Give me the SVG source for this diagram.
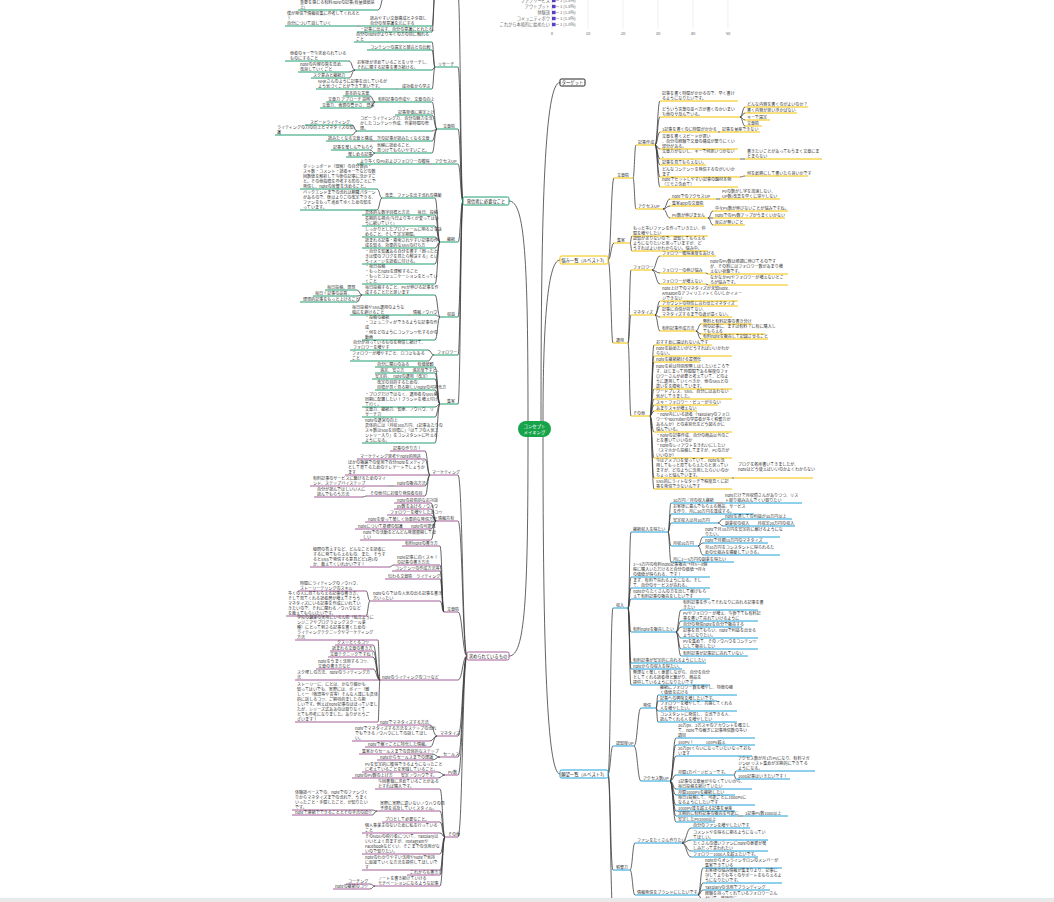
<svg xmlns="http://www.w3.org/2000/svg" width="1054" height="902" viewBox="0 0 1054 902">
<style>
.t{font-family:"Noto Sans CJK JP","Noto Sans",sans-serif;font-size:4.05px;fill:#333}
.ax{font-family:"Noto Sans CJK JP","Noto Sans",sans-serif;font-size:4.2px;fill:#666}
.bt{font-family:"Noto Sans CJK JP","Noto Sans",sans-serif;font-size:4.3px;fill:#222;text-anchor:middle}
.u{fill:none;stroke-width:1}
.ug{stroke:#1f9d6e}.up{stroke:#a35c98}.uy{stroke:#f2c200}.ub{stroke:#1ea0d8}
.c{fill:none;stroke:#3c3c3c;stroke-width:0.8}
.gl{stroke:#e6e6e6;stroke-width:0.6}
.box{fill:#fff;stroke-width:1}
</style>
<rect width="1054" height="902" fill="#fff"/>

<g id="chart">
<path class="gl" d="M588 0V29M623 0V29M658 0V29M693 0V29M728 0V29"/>
<path stroke="#cfcfcf" stroke-width="0.6" d="M552 0V29"/>
<g class="ax" text-anchor="end">
<text x="550" y="2">ファブリービス</text>
<text x="550" y="8">アウトプット</text>
<text x="550" y="14">体験談</text>
<text x="550" y="20">コミュニティボウ</text>
<text x="550" y="26">これから本格的に始めたい</text>
</g>
<g fill="#5b3cc4"><rect x="552" y="-1.2" width="3.6" height="3.4"/><rect x="552" y="4.8" width="3.6" height="3.4"/><rect x="552" y="10.8" width="3.6" height="3.4"/><rect x="552" y="16.8" width="3.6" height="3.4"/><rect x="552" y="22.8" width="3.6" height="3.4"/></g>
<path stroke="#888" stroke-width="0.5" d="M556 0.5H559M556 6.5H559M556 12.5H559M556 18.5H559M556 24.5H559"/>
<g class="ax">
<text x="560" y="2">1 (1.8%)</text><text x="560" y="8">1 (1.8%)</text><text x="560" y="14">1 (1.8%)</text><text x="560" y="20">1 (1.8%)</text><text x="560" y="26">1 (1.8%)</text>
</g>
<g class="ax" text-anchor="middle"><text x="552" y="35">0</text><text x="588" y="35">10</text><text x="623" y="35">20</text><text x="658" y="35">30</text><text x="693" y="35">40</text><text x="728" y="35">50</text></g>
</g>

<g id="connectors" class="c">
<path d="M509 201C525 201 528 260 528 421"/>
<path d="M509 656C525 656 528 600 528 437"/>
<path d="M560 82.5C545 82.5 541 200 541 421"/>
<path d="M560 260C548 260 543 320 543 421"/>
<path d="M560 774C547 774 543 650 543 437"/>
<path d="M463 201C460.5 201 460.5 -6 458 -6M463 201C460.5 201 460.5 67 458 67M463 201C460.5 201 460.5 129 458 129M463 201C460.5 201 460.5 164 458 164M463 201C460.5 201 460.5 242 458 242M463 201C460.5 201 460.5 317 458 317M463 201C460.5 201 460.5 355 458 355M463 201C460.5 201 460.5 404 458 404"/>
<path d="M435 -6C433.5 -6 433.5 26 432 26M435 -6C433.5 -6 433.5 32 432 32M378 10C382 10 382 -10 386 -10M360 26H357"/>
<path d="M435 67C433.5 67 433.5 42 432 42M435 67C433.5 67 433.5 50 432 50M435 67C433.5 67 433.5 70 432 70M435 67C433.5 67 433.5 89 432 89"/>
<path d="M355 70C352 70 352 61 349 61M355 70C352 70 352 72 349 72M355 70C352 70 352 78 349 78M398 89H396"/>
<path d="M437 129C434.5 129 434.5 102 432 102M437 129C434.5 129 434.5 115 432 115M437 129C434.5 129 434.5 131 432 131M437 129C434.5 129 434.5 141 432 141M437 129C434.5 129 434.5 153 432 153"/>
<path d="M375 102C372.5 102 372.5 96 370 96M375 102H370M375 102C372.5 102 372.5 108 370 108M357 131C354.5 131 354.5 125 352 125M357 131C354.5 131 354.5 135 352 135M375 141H370M375 153C372.5 153 372.5 150 370 150M375 153C372.5 153 372.5 157 370 157M432 164H428"/>
<path d="M440 242C437.5 242 437.5 198 435 198M440 242C437.5 242 437.5 215 435 215M440 242C437.5 242 437.5 226 435 226M440 242C437.5 242 437.5 237 435 237M440 242C437.5 242 437.5 248 435 248M440 242C437.5 242 437.5 264 435 264M440 242C437.5 242 437.5 284 435 284"/>
<path d="M382 198C379.5 198 379.5 189 377 189M382 198C379.5 198 379.5 210 377 210"/>
<path d="M440 317C437.5 317 437.5 295 435 295M440 317C437.5 317 437.5 315 435 315M440 317C437.5 317 437.5 340 435 340M362 295C359.5 295 359.5 290 357 290M362 295C359.5 295 359.5 296 357 296M362 295C359.5 295 359.5 302 357 302M410 315H408"/>
<path d="M434 355C431 355 431 350 428 350M434 355C431 355 431 361 428 361"/>
<path d="M440 404C437.5 404 437.5 367 435 367M440 404C437.5 404 437.5 373 435 373M440 404C437.5 404 437.5 379 435 379M440 404C437.5 404 437.5 390 435 390M440 404C437.5 404 437.5 407 435 407M440 404C437.5 404 437.5 417 435 417M440 404C437.5 404 437.5 443 435 443"/>
<path d="M467 656C462.5 656 462.5 475 458 475M467 656C462.5 656 462.5 521 458 521M467 656C462.5 656 462.5 612 458 612M467 656C462.5 656 462.5 680 458 680M467 656C462.5 656 462.5 736 458 736M467 656C462.5 656 462.5 757 458 757M467 656C462.5 656 462.5 775 458 775M467 656C462.5 656 462.5 837 458 837"/>
<path d="M430 475C427.5 475 427.5 451 425 451M430 475C427.5 475 427.5 459 425 459M430 475H425M430 475C427.5 475 427.5 486 425 486M430 475C427.5 475 427.5 496 425 496M394 486H388M367 496C364.5 496 364.5 497 362 497"/>
<path d="M436 521C433.5 521 433.5 503 431 503M436 521C433.5 521 433.5 509 431 509M436 521C433.5 521 433.5 515 431 515M436 521C433.5 521 433.5 522 431 522M436 521C433.5 521 433.5 529 431 529M436 521C433.5 521 433.5 540 431 540"/>
<path d="M444 612C442 612 442 546 440 546M444 612C442 612 442 565 440 565M444 612C442 612 442 571 440 571M444 612C442 612 442 579 440 579M444 612C442 612 442 601 440 601M394 565C391.5 565 391.5 567 389 567M370 601C368 601 368 591 366 591M370 601C368 601 368 616 366 616"/>
<path d="M380 680C379 680 379 640 378 640M380 680C376.5 680 376.5 645 373 645M380 680C376.5 680 376.5 651 373 651M380 680C376.5 680 376.5 657 373 657M380 680C376.5 680 376.5 669 373 669M380 680H378M380 680C379 680 379 722 378 722"/>
<path d="M437 736C433.5 736 433.5 725 430 725M437 736C433.5 736 433.5 741 430 741M437 736C433.5 736 433.5 747 430 747M440 757C436 757 436 754 432 754M440 757C436 757 436 760 432 760M445 775C441.5 775 441.5 772 438 772M445 775C441.5 775 441.5 778 438 778"/>
<path d="M445 837C442.5 837 442.5 789 440 789M445 837C442.5 837 442.5 811 440 811M445 837C442.5 837 442.5 822 440 822M445 837C442.5 837 442.5 833 440 833M445 837C442.5 837 442.5 854 440 854M445 837C442.5 837 442.5 870 440 870M445 837C442.5 837 442.5 875 440 875M445 837C442.5 837 442.5 886 440 886M377 811C374.5 811 374.5 810 372 810M377 811C374.5 811 374.5 815 372 815M375 886C372.5 886 372.5 884 370 884M375 886C372.5 886 372.5 889 370 889"/>
<path d="M608 260C611 260 611 178 614 178M608 260C611 260 611 243 614 243M608 260C611 260 611 343 613 343"/>
<path d="M633 178C634.5 178 634.5 145 636 145M633 178C634.5 178 634.5 209 636 209"/>
<path d="M655 145C657.5 145 657.5 101 660 101M655 145C657.5 145 657.5 117 660 117M655 145C657.5 145 657.5 132 660 132M655 145C657.5 145 657.5 149 660 149M655 145C657.5 145 657.5 159 660 159M655 145C657.5 145 657.5 165 660 165M655 145C657.5 145 657.5 177 660 177M655 145C657.5 145 657.5 187 660 187"/>
<path d="M740 117C742.5 117 742.5 107 745 107M740 117C742.5 117 742.5 113 745 113M740 117C742.5 117 742.5 120 745 120M740 117C742.5 117 742.5 126 745 126M718 132H720M740 159H745M740 177C742.5 177 742.5 176 745 176"/>
<path d="M663 209C666.5 209 666.5 199 670 199M663 209C666.5 209 666.5 206 670 206M663 209C666.5 209 666.5 218 670 218M716 199H720M708 218C710.5 218 710.5 211 713 211M708 218H713M708 218C710.5 218 710.5 225 713 225"/>
<path d="M630 243C631 243 631 236 632 236M630 243C631 243 631 251 632 251"/>
<path d="M628 343C629.5 343 629.5 270 631 270M628 343C629.5 343 629.5 315 631 315M628 343C629.5 343 629.5 416 631 416"/>
<path d="M652 270C656 270 656 256 660 256M652 270C656 270 656 273 660 273M652 270C656 270 656 284 660 284M706 273C707 273 707 274 708 274M706 284C707 284 707 285 708 285"/>
<path d="M655 315C657.5 315 657.5 301 660 301M655 315C657.5 315 657.5 306 660 306M655 315C657.5 315 657.5 317 660 317M655 315C657.5 315 657.5 331 660 331M696 331C698.5 331 698.5 324 701 324M696 331C698.5 331 698.5 334 701 334M696 331C698.5 331 698.5 339 701 339"/>
<path d="M650 416C652 416 652 345 654 345M650 416C652 416 652 356 654 356M650 416C652 416 652 362 654 362M650 416C652 416 652 389 654 389M650 416C652 416 652 399 654 399M650 416C652 416 652 405 654 405M650 416C652 416 652 411 654 411M650 416C652 416 652 432 654 432M650 416C652 416 652 458 654 458M650 416C652 416 652 478 654 478M650 416C652 416 652 489 654 489M732 478H734"/>
<path d="M608 774C610.5 774 610.5 608 613 608M608 774C610.5 774 610.5 746 613 746M608 774C610.5 774 610.5 870 613 870M608 774C610.5 774 610.5 912 613 912"/>
<path d="M628 608C629.5 608 629.5 532 631 532M628 608C629.5 608 629.5 577 631 577M628 608C629.5 608 629.5 588 631 588M628 608C629.5 608 629.5 599 631 599M628 608C629.5 608 629.5 632 631 632M628 608C629.5 608 629.5 663 631 663M628 608C629.5 608 629.5 669 631 669M628 608C629.5 608 629.5 685 631 685"/>
<path d="M668 532C669.5 532 669.5 503 671 503M668 532C669.5 532 669.5 514 671 514M668 532C669.5 532 669.5 523 671 523M668 532C669.5 532 669.5 546 671 546M668 532C669.5 532 669.5 562 671 562M716 503H723M718 523C720.5 523 720.5 519 723 519M718 523C720.5 523 720.5 526 723 526M698 546C700.5 546 700.5 537 703 537M698 546C700.5 546 700.5 543 703 543M698 546C700.5 546 700.5 555 703 555"/>
<path d="M676 632C678.5 632 678.5 610 681 610M676 632C678.5 632 678.5 621 681 621M676 632C678.5 632 678.5 627 681 627M676 632C678.5 632 678.5 638 681 638M676 632C678.5 632 678.5 649 681 649M676 632C678.5 632 678.5 656 681 656"/>
<path d="M634 746C637.5 746 637.5 708 641 708M634 746C637.5 746 637.5 781 641 781M656 708C657 708 657 695 658 695M656 708C657 708 657 701 658 701M656 708C657 708 657 711 658 711M656 708C657 708 657 722 658 722"/>
<path d="M670 781C673 781 673 738 676 738M670 781C673 781 673 745 676 745M670 781C673 781 673 756 676 756M670 781C673 781 673 775 676 775M670 781C673 781 673 789 676 789M670 781C673 781 673 795 676 795M670 781C673 781 673 805 676 805M670 781C673 781 673 811 676 811M670 781C673 781 673 816 676 816M670 781C673 781 673 822 676 822M734 775C735 775 735 771 736 771M734 775C735 775 735 779 736 779M738 816H743"/>
<path d="M630 870C632.5 870 632.5 843 635 843M630 870C632.5 870 632.5 895 635 895M682 843C686.5 843 686.5 828 691 828M682 843C686.5 843 686.5 840 691 840M682 843C686.5 843 686.5 851 691 851M682 843C686.5 843 686.5 857 691 857M698 895C700.5 895 700.5 868 703 868M698 895C700.5 895 700.5 883 703 883M698 895C700.5 895 700.5 890 703 890M698 895C700.5 895 700.5 901 703 901"/>
</g>

<g id="center"><rect x="518" y="421" width="33" height="16" rx="8" fill="#17a34a"/><text x="534.5" y="428" text-anchor="middle" font-family="Noto Sans CJK JP, sans-serif" font-size="4.4" fill="#fff">コンセプト<tspan x="534.5" dy="5.5">メイキング</tspan></text></g>
<g id="target"><rect class="box" x="560" y="79" width="25" height="7" rx="1.2" stroke="#222"/><text class="bt" x="572.5" y="84">ターゲット</text></g>
<g id="p-hasshin"><rect class="box" x="463" y="197" width="46" height="8" rx="1.5" stroke="#1f9d6e"/><text class="bt" x="486" y="202.5">発信者に必要なこと</text></g>
<g id="p-motome"><rect class="box" x="467" y="652" width="42" height="8" rx="1.5" stroke="#a35c98"/><text class="bt" x="488" y="657.5">求められているもの</text></g>
<g id="p-nayami"><rect class="box" x="560" y="256" width="48" height="8" rx="1.5" stroke="#f2c200"/><text class="bt" x="584" y="261.5">悩み一覧（ルベスト3）</text></g>
<g id="p-ganbo"><rect class="box" x="560" y="770" width="48" height="8" rx="1.5" stroke="#1ea0d8"/><text class="bt" x="584" y="775.5">願望一覧（ルベスト3）</text></g>

<g id="green-nodes">
<g id="g-top1"><text class="t" x="300" y="3.5">重要を感じる有料noteの記事(有量価値是<tspan x="300" dy="5">上)</tspan></text><path class="u ug" d="M298 10H378"/></g>
<g id="g-top2"><text class="t" x="370" y="19.5">読みやすい文章構成とネタ探し<tspan x="370" dy="5">自分の型意識を元にする</tspan></text><path class="u ug" d="M360 26H432"/></g>
<g id="g-top3"><text class="t" x="287" y="14.5">僕が発信で情報収集に参考してくれると<tspan x="287" dy="5">！</tspan><tspan x="287" dy="5">自分について話していく</tspan></text><path class="u ug" d="M285 26H357"/></g>
<g id="g-top4"><text class="t" x="360" y="30.5">・記事に出会す、自分の意識にとれたる。</text><path class="u ug" d="M357 32H432"/></g>
<g id="g1"><text class="t" x="438" y="65.5">リサーチ</text><path class="u ug" d="M435 67H458"/></g>
<g id="r1"><text class="t" x="356" y="35.5">自分のnoteがより多くの方の目に触れる<tspan x="356" dy="5">こと</tspan></text><path class="u ug" d="M354 42H432"/></g>
<g id="r2"><text class="t" x="370" y="48.5">コンテンツの選定と競合との比較</text><path class="u ug" d="M367 50H432"/></g>
<g id="r3"><text class="t" x="357" y="63.5">お客様が求めていることをリサーチし、<tspan x="357" dy="5">それに関する記事を書き続ける。</tspan></text><path class="u ug" d="M355 70H432"/></g>
<g id="r3a"><text class="t" x="290" y="54.5">他者のキーで今求められている<tspan x="290" dy="5">ものにすること</tspan></text><path class="u ug" d="M285 61H349"/></g>
<g id="r3b"><text class="t" x="300" y="65.5">noteの内容の質を高め、<tspan x="300" dy="5">改良していくこと</tspan></text><path class="u ug" d="M298 72H349"/></g>
<g id="r3c"><text class="t" x="313" y="76.5">スク意みと継続力</text><path class="u ug" d="M311 78H349"/></g>
<g id="r4"><text class="t" x="402" y="87.5">成功者から学ぶ</text><path class="u ug" d="M398 89H432"/></g>
<g id="r4a"><text class="t" x="318" y="82.5">NHKさんのように記事を出しているが<tspan x="318" dy="5">よう気づくことができて思いです。</tspan></text><path class="u ug" d="M316 89H396"/></g>
<g id="g2"><text class="t" x="443" y="127.5">文章術</text><path class="u ug" d="M437 129H458"/></g>
<g id="s1"><text class="t" x="378" y="100.5">有料記事の作成や、文章の向上</text><path class="u ug" d="M375 102H432"/></g>
<g id="s1a"><text class="t" x="345" y="94.5">基本的な言葉</text><path class="u ug" d="M343 96H370"/></g>
<g id="s1b"><text class="t" x="328" y="100.5">文章力 アプローチ 説明</text><path class="u ug" d="M326 102H370"/></g>
<g id="s1c"><text class="t" x="322" y="106.5">文章力、表現の豊かさ、語彙</text><path class="u ug" d="M320 108H370"/></g>
<g id="s2"><text class="t" x="398" y="113.5">記事単価に需定上げ</text><path class="u ug" d="M395 115H432"/></g>
<g id="s3"><text class="t" x="360" y="119.5">コピーライティング力、自分の魅力を活<tspan x="360" dy="5">かしたコンテンツ作成、作業時間の管</tspan><tspan x="360" dy="5">理。</tspan></text><path class="u ug" d="M357 131H432"/></g>
<g id="s3a"><text class="t" x="310" y="123.5">スピードライティング</text><path class="u ug" d="M305 125H352"/></g>
<g id="s3b"><text class="t" x="277" y="128.5">ライティングの力の向上とマネタイズの知<tspan x="277" dy="5">識</tspan></text><path class="u ug" d="M275 135H352"/></g>
<g id="s4"><text class="t" x="377" y="139.5">次の記事が読みたくなる文章</text><path class="u ug" d="M375 141H432"/></g>
<g id="s4a"><text class="t" x="328" y="139.5">読みたくなる文章と構成</text><path class="u ug" d="M326 141H370"/></g>
<g id="s5"><text class="t" x="377" y="146.5">気軽に読めること、<tspan x="377" dy="5">見つけてもらいやすいこと。</tspan></text><path class="u ug" d="M375 153H432"/></g>
<g id="s5a"><text class="t" x="333" y="148.5">記事を楽しんでもらう</text><path class="u ug" d="M331 150H370"/></g>
<g id="s5b"><text class="t" x="348" y="155.5">楽しめる記事</text><path class="u ug" d="M346 157H370"/></g>
<g id="g3"><text class="t" x="435" y="162.5">アクセスUP</text><path class="u ug" d="M432 164H458"/></g>
<g id="a1"><text class="t" x="360" y="162.5">より多くのPVおよびフォロワーの獲得</text><path class="u ug" d="M357 164H428"/></g>
<g id="g4"><text class="t" x="447" y="240.5">継続</text><path class="u ug" d="M440 242H458"/></g>
<g id="k1"><text class="t" x="385" y="196.5">改善、ファンを出す流れの構築</text><path class="u ug" d="M382 198H435"/></g>
<g id="k1a"><text class="t" x="303" y="167.5">ダッシュボード（閲覧）の自分数ys・<tspan x="303" dy="5">スキ数・コメント・読者キーでなどの数</tspan><tspan x="303" dy="5">回数値を解析して今後の記事に活かすこ</tspan><tspan x="303" dy="5">と。その他指標を参考する形のことにで</tspan><tspan x="303" dy="5">発信し、noteの反響を活めること。</tspan></text><path class="u ug" d="M300 189H377"/></g>
<g id="k1b"><text class="t" x="303" y="193.5">バックエンドまでの流れは網羅パターン<tspan x="303" dy="5">があるので、後はよりこの改定できる、</tspan><tspan x="303" dy="5">ファンをもって進めてゆくための知を</tspan><tspan x="303" dy="5">っています。</tspan></text><path class="u ug" d="M300 210H377"/></g>
<g id="k2"><text class="t" x="365" y="213.5">具体的な数字目標と方法　　毎日、投稿</text><path class="u ug" d="M362 215H435"/></g>
<g id="k3"><text class="t" x="365" y="219.5">長期的な視点(今日より多くが変ってはい<tspan x="365" dy="5">うに続いていく)</tspan></text><path class="u ug" d="M362 226H435"/></g>
<g id="k4"><text class="t" x="365" y="230.5">しっかりとしたプロフィールに明るさを決<tspan x="365" dy="5">めること、そして定定期間。</tspan></text><path class="u ug" d="M362 237H435"/></g>
<g id="k5"><text class="t" x="365" y="241.5">読まれる記事・検索されやすい記事の作<tspan x="365" dy="5">成を知る、効果的なSNSの打ち方</tspan></text><path class="u ug" d="M362 248H435"/></g>
<g id="k6"><text class="t" x="365" y="252.5">・自分を知識ある自分を書す「困ったと<tspan x="365" dy="5">きは僕のブログを見たら解決する」とい</tspan><tspan x="365" dy="5">うイメージを読者に付ける。</tspan></text><path class="u ug" d="M362 264H435"/></g>
<g id="k7"><text class="t" x="365" y="267.5">・毎日投稿<tspan x="365" dy="5">・もっとnoteを理解すること</tspan><tspan x="365" dy="5">・もっとコミュニケーションをとってい</tspan><tspan x="365" dy="5">くこと</tspan></text><path class="u ug" d="M362 284H435"/></g>
<g id="g5"><text class="t" x="447" y="315.5">収益</text><path class="u ug" d="M440 317H458"/></g>
<g id="e1"><text class="t" x="365" y="288.5">毎日投稿すること、PVが伸びる記事を作<tspan x="365" dy="5">成することだと思います</tspan></text><path class="u ug" d="M362 295H435"/></g>
<g id="e1a"><text class="t" x="327" y="288.5">毎日投稿、理想</text><path class="u ug" d="M325 290H357"/></g>
<g id="e1b"><text class="t" x="315" y="294.5">毎日！記事の品質、</text><path class="u ug" d="M313 296H357"/></g>
<g id="e1c"><text class="t" x="303" y="300.5">理想的記事をもっと上げること</text><path class="u ug" d="M300 302H357"/></g>
<g id="e2"><text class="t" x="413" y="313.5">情報ノウハウ</text><path class="u ug" d="M410 315H435"/></g>
<g id="e2a"><text class="t" x="352" y="308.5">毎日投稿やSNS運用のような<tspan x="352" dy="5">幅広を避けること</tspan></text><path class="u ug" d="M350 315H408"/></g>
<g id="e3"><text class="t" x="365" y="318.5">・投稿の継続<tspan x="365" dy="5">・コミュニティができるような記事の作</tspan><tspan x="365" dy="5">成</tspan><tspan x="365" dy="5">・何をどのようにコンテンツ化するかの</tspan><tspan x="365" dy="5">動画</tspan></text><path class="u ug" d="M362 340H435"/></g>
<g id="g6"><text class="t" x="437" y="353.5">フォロワー</text><path class="u ug" d="M434 355H458"/></g>
<g id="f1"><text class="t" x="353" y="343.5">自分が持っているものを発信し続けて、<tspan x="353" dy="5">フォロワーを増やす</tspan></text><path class="u ug" d="M350 350H428"/></g>
<g id="f2"><text class="t" x="352" y="354.5">フォロワーが増やすこと、ロコミもある<tspan x="352" dy="5">こと</tspan></text><path class="u ug" d="M350 361H428"/></g>
<g id="g7"><text class="t" x="447" y="402.5">集客</text><path class="u ug" d="M440 404H458"/></g>
<g id="q1"><text class="t" x="377" y="365.5">自分に関心のある　　有価値観</text><path class="u ug" d="M375 367H435"/></g>
<g id="q2"><text class="t" x="380" y="371.5">満足、安さ方　　満足度ですと。</text><path class="u ug" d="M375 373H435"/></g>
<g id="q3"><text class="t" x="375" y="377.5">安定的、　noteの運用（改定）</text><path class="u ug" d="M372 379H435"/></g>
<g id="q4"><text class="t" x="377" y="383.5">改定の目的するための、<tspan x="377" dy="5">目標が見く見る期しいnoteの可視化方</tspan></text><path class="u ug" d="M375 390H435"/></g>
<g id="q5"><text class="t" x="365" y="395.5">・ブログだけではなく、運用者のSNS系<tspan x="365" dy="5">同期に配置したい！ブランドを増え付け</tspan><tspan x="365" dy="5">て行く。</tspan></text><path class="u ug" d="M362 407H435"/></g>
<g id="q6"><text class="t" x="365" y="410.5">文章力、継続力、知恵、ノウハウ、リ<tspan x="365" dy="5">サーチ力</tspan></text><path class="u ug" d="M362 417H435"/></g>
<g id="q7"><text class="t" x="365" y="421.5">noteの運営の向上<tspan x="365" dy="5">具体的には「月収100万円、1記事あたりの</tspan><tspan x="365" dy="5">スキ数は500を目標に」「はてブの人気エ</tspan><tspan x="365" dy="5">ントリー入り」をコンスタントに叶える</tspan><tspan x="365" dy="5">ようになる。</tspan></text><path class="u ug" d="M362 443H435"/></g>
</g>

<g id="purple-nodes">
<g id="m0"><text class="t" x="432" y="473.5">マーケティング</text><path class="u up" d="M430 475H458"/></g>
<g id="m1"><text class="t" x="393" y="449.5">記事の作り方！</text><path class="u up" d="M390 451H425"/></g>
<g id="m2"><text class="t" x="360" y="457.5">マーケティング思考やnote的用途</text><path class="u up" d="M357 459H425"/></g>
<g id="m3"><text class="t" x="348" y="463.5">ほかの販路での使用で自分noteをメディア<tspan x="348" dy="5">として育てるためのテレゲートでしょうか</tspan><tspan x="348" dy="5">ます</tspan></text><path class="u up" d="M345 475H425"/></g>
<g id="m4"><text class="t" x="397" y="484.5">noteの販売方法</text><path class="u up" d="M394 486H425"/></g>
<g id="m4a"><text class="t" x="313" y="479.5">有料記事のサービスに繋げるためのマイ<tspan x="313" dy="5">ンド、ステップバイステップ</tspan></text><path class="u up" d="M310 486H388"/></g>
<g id="m5"><text class="t" x="370" y="494.5">その他付にお借り発信者の目</text><path class="u up" d="M367 496H425"/></g>
<g id="m5a"><text class="t" x="317" y="490.5">自分が読んではしいい人に<tspan x="317" dy="5">読んでもらう方法</tspan></text><path class="u up" d="M314 497H362"/></g>
<g id="i0"><text class="t" x="438" y="519.5">情報共有</text><path class="u up" d="M436 521H458"/></g>
<g id="i1"><text class="t" x="397" y="501.5">noteの技術的なお対話</text><path class="u up" d="M394 503H431"/></g>
<g id="i2"><text class="t" x="397" y="507.5">pv数をあげるノウハウ</text><path class="u up" d="M394 509H431"/></g>
<g id="i3"><text class="t" x="390" y="513.5">フォロワーを増やしたいコツ</text><path class="u up" d="M387 515H431"/></g>
<g id="i4"><text class="t" x="368" y="520.5">noteを使って楽しく効果的な発信方法</text><path class="u up" d="M365 522H431"/></g>
<g id="i5"><text class="t" x="358" y="527.5">noteについて基礎の知識　　noteの可能性</text><path class="u up" d="M355 529H431"/></g>
<g id="i6"><text class="t" x="363" y="533.5">noteでの活動をどんどん発展展開してほ<tspan x="363" dy="5">しい</tspan></text><path class="u up" d="M360 540H431"/></g>
<g id="w0"><text class="t" x="447" y="610.5">文章術</text><path class="u up" d="M444 612H458"/></g>
<g id="w1"><text class="t" x="405" y="544.5">有料noteの書き方</text><path class="u up" d="M402 546H440"/></g>
<g id="w2"><text class="t" x="397" y="558.5">note記事に向くスキ！<tspan x="397" dy="5">の記事の書き方法</tspan></text><path class="u up" d="M394 565H440"/></g>
<g id="w2a"><text class="t" x="313" y="550.5">疑問の答えすなど、どんなことを読者に<tspan x="313" dy="5">するに発てもらえるもの、また、そうす</tspan><tspan x="313" dy="5">るとSNSで発信する意見どど1週1の</tspan><tspan x="313" dy="5">か、教えてくいれかいです！</tspan></text><path class="u up" d="M310 567H389"/></g>
<g id="w3"><text class="t" x="395" y="569.5">コンテンツの作成方法等</text><path class="u up" d="M392 571H440"/></g>
<g id="w4"><text class="t" x="388" y="577.5">伝わる文章術　ライティング</text><path class="u up" d="M385 579H440"/></g>
<g id="w5"><text class="t" x="373" y="594.5">noteならではの人気の出る記事を書き<tspan x="373" dy="5">方いったい</tspan></text><path class="u up" d="M370 601H440"/></g>
<g id="w5a"><text class="t" x="300" y="584.5">時間にライティングのノウハウ、<tspan x="300" dy="5">ストーリーテリングのスキル</tspan></text><path class="u up" d="M298 591H366"/></g>
<g id="w5b"><text class="t" x="288" y="594.5">多くの人に見てもらえる記事の書き方、<tspan x="288" dy="5">そして見てくれる読者層が増えてそうう</tspan><tspan x="288" dy="5">マネタイズにいる記事を作成にいれてい</tspan><tspan x="288" dy="5">きたいので、それに関わるノウハウなど</tspan><tspan x="288" dy="5">を教えてもらいたいです。</tspan></text><path class="u up" d="M286 616H366"/></g>
<g id="l0"><text class="t" x="382" y="678.5">noteのライティングのコツなど</text><path class="u up" d="M380 680H458"/></g>
<g id="l1"><text class="t" x="297" y="618.5">学校の職業の実用にいるん術（私立ように<tspan x="297" dy="5">ンジニアやプログラミングスクール業</tspan><tspan x="297" dy="5">種）にとって刺さる記事を書くための</tspan><tspan x="297" dy="5">ライティングテクニックやマーケティング</tspan><tspan x="297" dy="5">方法</tspan></text><path class="u up" d="M295 640H378"/></g>
<g id="l2"><text class="t" x="337" y="643.5">クスッとくるコツ</text><path class="u up" d="M335 645H373"/></g>
<g id="l3"><text class="t" x="332" y="649.5">読まれる文章の書き方</text><path class="u up" d="M330 651H373"/></g>
<g id="l4"><text class="t" x="330" y="655.5">文章テクニックですね！</text><path class="u up" d="M328 657H373"/></g>
<g id="l5"><text class="t" x="318" y="662.5">noteをうまく活用するコツ、<tspan x="318" dy="5">文章の書き方など</tspan></text><path class="u up" d="M316 669H373"/></g>
<g id="l6"><text class="t" x="297" y="673.5">スク埋しの方法、noteのライティング方<tspan x="297" dy="5">法</tspan></text><path class="u up" d="M295 680H378"/></g>
<g id="l7"><text class="t" x="297" y="685.5">ストーリーに、にとは、かなり細かも<tspan x="297" dy="5">知ってはいでも、実際には、ボイー（難</tspan><tspan x="297" dy="5">しく一（敬語等や言等）そんな人達にも具体</tspan><tspan x="297" dy="5">的に話しるコツ、ご期待的ましたら期</tspan><tspan x="297" dy="5">しいです。例えばnote記事のはほっていまし</tspan><tspan x="297" dy="5">たが、シリーズ式ああのは取りなくて</tspan><tspan x="297" dy="5">とても参考になりました。ありがとうご</tspan><tspan x="297" dy="5">ざいます！</tspan></text><path class="u up" d="M295 722H378"/></g>
<g id="n0"><text class="t" x="440" y="734.5">マネタイズ</text><path class="u up" d="M437 736H458"/></g>
<g id="n1"><text class="t" x="380" y="723.5">noteでマネタイズする方法</text><path class="u up" d="M377 725H430"/></g>
<g id="n2"><text class="t" x="355" y="729.5">noteでマネタイズする方法をステップの流れ<tspan x="355" dy="5">でもできるノウハウにしての話してほし</tspan><tspan x="355" dy="5">い。</tspan></text><path class="u up" d="M352 741H430"/></g>
<g id="n3"><text class="t" x="368" y="745.5">noteで稼ぐことに特化した情報。</text><path class="u up" d="M365 747H430"/></g>
<g id="o0"><text class="t" x="443" y="755.5">セールス</text><path class="u up" d="M440 757H458"/></g>
<g id="o1"><text class="t" x="362" y="752.5">集客からセールスまでの具体的なステップ</text><path class="u up" d="M359 754H432"/></g>
<g id="o2"><text class="t" x="380" y="758.5">noteからセールスまでの理論</text><path class="u up" d="M377 760H432"/></g>
<g id="pv0"><text class="t" x="448" y="773.5">PV数</text><path class="u up" d="M445 775H458"/></g>
<g id="pv1"><text class="t" x="365" y="765.5">PVを安定的に獲得できるようになったこと<tspan x="365" dy="5">に考えていることを実践していること。</tspan></text><path class="u up" d="M362 772H438"/></g>
<g id="pv2"><text class="t" x="355" y="776.5">noteのPV数の上げ方　　安定ノウハウです。</text><path class="u up" d="M352 778H438"/></g>
<g id="z0"><text class="t" x="448" y="835.5">その他</text><path class="u up" d="M445 837H458"/></g>
<g id="z1"><text class="t" x="378" y="782.5">今回書籍に求めていることがある<tspan x="378" dy="5">とすれば購入です。</tspan></text><path class="u up" d="M375 789H440"/></g>
<g id="z2"><text class="t" x="380" y="804.5">実際に実際に違いないノウハウの見<tspan x="380" dy="5">予想を追及していくスタイル。</tspan></text><path class="u up" d="M377 811H440"/></g>
<g id="z2a"><text class="t" x="295" y="793.5">体験談ベースでの、noteでのファンづく<tspan x="295" dy="5">りからマネタイズまでの流れで、うまく</tspan><tspan x="295" dy="5">いったこと・手間したこと、が知りたい</tspan><tspan x="295" dy="5">です。</tspan></text><path class="u up" d="M292 810H372"/></g>
<g id="z2b"><text class="t" x="295" y="813.5">noteで連続でできることとその手法の紹介</text><path class="u up" d="M292 815H372"/></g>
<g id="z3"><text class="t" x="385" y="820.5">プロとして必要なこと。</text><path class="u up" d="M382 822H440"/></g>
<g id="z4"><text class="t" x="365" y="826.5">個人事業主のないために私を行っている<tspan x="365" dy="5">こと</tspan></text><path class="u up" d="M362 833H440"/></g>
<g id="z5"><text class="t" x="365" y="837.5">そのNDUの飛行者について、TaxDiaryは<tspan x="365" dy="5">いいとよく見ますが、Instagramや</tspan><tspan x="365" dy="5">Facebookなどくい、そこまでの活用がな</tspan><tspan x="365" dy="5">いので知りたい。</tspan></text><path class="u up" d="M362 854H440"/></g>
<g id="z6"><text class="t" x="365" y="858.5">noteのわかりやすい活用やNoteで気持<tspan x="365" dy="5">に直接ていくな方法を提供してほしいで</tspan><tspan x="365" dy="5">す</tspan></text><path class="u up" d="M362 870H440"/></g>
<g id="z7"><text class="t" x="410" y="873.5">これからも書き方</text><path class="u up" d="M407 875H440"/></g>
<g id="z8"><text class="t" x="378" y="879.5">ノートを書き続けていける<tspan x="378" dy="5">モチベーションになるような記事</tspan></text><path class="u up" d="M375 886H440"/></g>
<g id="z8a"><text class="t" x="348" y="882.5">コーチング</text><path class="u up" d="M346 884H370"/></g>
<g id="z8b"><text class="t" x="335" y="887.5">noteの継続のコツ</text><path class="u up" d="M333 889H370"/></g>
</g>

<g id="yellow-nodes">
<g id="y-bun"><text class="t" x="617" y="176.5">文章術</text><path class="u uy" d="M614 178H633"/></g>
<g id="y-kiji"><text class="t" x="638" y="143.5">記事作成</text><path class="u uy" d="M636 145H655"/></g>
<g id="y1"><text class="t" x="662" y="94.5">記事を書く時間がかかるので、早く書け<tspan x="662" dy="5">るようになりたいです。</tspan></text><path class="u uy" d="M660 101H738"/></g>
<g id="y2"><text class="t" x="662" y="110.5">どういう言葉の並べ方が書くのかいまい<tspan x="662" dy="5">ち他のサ及んでいる。</tspan></text><path class="u uy" d="M660 117H740"/></g>
<g id="y2a"><text class="t" x="747" y="105.5">どんな内容を書くのがよいのか？</text><path class="u uy" d="M745 107H808"/></g>
<g id="y2b"><text class="t" x="747" y="111.5">書く内容が思い浮かばない</text><path class="u uy" d="M745 113H797"/></g>
<g id="y2c"><text class="t" x="747" y="118.5">キーで選定</text><path class="u uy" d="M745 120H770"/></g>
<g id="y2d"><text class="t" x="747" y="124.5">文章術</text><path class="u uy" d="M745 126H762"/></g>
<g id="y3"><text class="t" x="662" y="130.5">1記事を書くのに時間がかかる</text><path class="u uy" d="M660 132H718"/></g>
<g id="y3a"><text class="t" x="722" y="130.5">記事を量産できない</text><path class="u uy" d="M720 132H760"/></g>
<g id="y4"><text class="t" x="662" y="137.5">文章を書くスピードが遅い<tspan x="662" dy="5">、自分の経験で文章の構成が整りにくい</tspan><tspan x="662" dy="5">部分がある。</tspan></text><path class="u uy" d="M660 149H738"/></g>
<g id="y5"><text class="t" x="662" y="152.5">文章力がないし、キーで何思いつかない<tspan x="662" dy="5">。</tspan></text><path class="u uy" d="M660 159H740"/></g>
<g id="y5a"><text class="t" x="747" y="152.5">書きたいことがあってもうまく文章にま<tspan x="747" dy="5">とまらない</tspan></text><path class="u uy" d="M745 159H822"/></g>
<g id="y6"><text class="t" x="662" y="163.5">記事を見てもらえない。</text><path class="u uy" d="M660 165H706"/></g>
<g id="y7"><text class="t" x="662" y="170.5">どんなコンテンツを発信するのがいいか<tspan x="662" dy="5">まず</tspan></text><path class="u uy" d="M660 177H740"/></g>
<g id="y7a"><text class="t" x="747" y="174.5">何を最終にして書いたら良いかです</text><path class="u uy" d="M745 176H808"/></g>
<g id="y8"><text class="t" x="662" y="180.5">noteでヒットしやすい記事の題材本物<tspan x="662" dy="5">（エモさ含めて）</tspan></text><path class="u uy" d="M660 187H738"/></g>
<g id="y-access"><text class="t" x="638" y="207.5">アクセスUP</text><path class="u uy" d="M636 209H663"/></g>
<g id="y9"><text class="t" x="672" y="197.5">noteでのアクセスUP</text><path class="u uy" d="M670 199H716"/></g>
<g id="y9a"><text class="t" x="722" y="192.5">PVの数がし字を加速しない、<tspan x="722" dy="5">UP数(改善を早くに逆やしない</tspan></text><path class="u uy" d="M720 199H780"/></g>
<g id="y10"><text class="t" x="672" y="204.5">集客appの文章術</text><path class="u uy" d="M670 206H704"/></g>
<g id="y11"><text class="t" x="672" y="216.5">PV数が伸びません</text><path class="u uy" d="M670 218H708"/></g>
<g id="y11a"><text class="t" x="715" y="209.5">中々PV数が伸びないことが悩みですね。</text><path class="u uy" d="M713 211H788"/></g>
<g id="y11b"><text class="t" x="715" y="216.5">noteでのPV数アップがうまくいかない</text><path class="u uy" d="M713 218H785"/></g>
<g id="y11c"><text class="t" x="715" y="223.5">反応が無いこと</text><path class="u uy" d="M713 225H745"/></g>
<g id="y-shu"><text class="t" x="617" y="241.5">集客</text><path class="u uy" d="M614 243H630"/></g>
<g id="x1"><text class="t" x="633" y="229.5">もっと多いファンを作っていきたい、仲<tspan x="633" dy="5">間を増やしたい</tspan></text><path class="u uy" d="M632 236H708"/></g>
<g id="x2"><text class="t" x="633" y="239.5">認知が足りないので、認知してもらえる<tspan x="633" dy="5">ようになりたいと思っていますが、ど</tspan><tspan x="633" dy="5">うすればよいかわからない。悩み中。</tspan></text><path class="u uy" d="M632 251H708"/></g>
<g id="y-un"><text class="t" x="616" y="341.5">運用</text><path class="u uy" d="M613 343H628"/></g>
<g id="y-fol"><text class="t" x="633" y="268.5">フォロワー</text><path class="u uy" d="M631 270H652"/></g>
<g id="h1"><text class="t" x="662" y="254.5">フォロワー獲得速度をあげる</text><path class="u uy" d="M660 256H716"/></g>
<g id="h2"><text class="t" x="662" y="271.5">フォロワーの伸び悩み</text><path class="u uy" d="M660 273H706"/></g>
<g id="h2a"><text class="t" x="710" y="262.5">noteのPV数は順調に伸びてるのです<tspan x="710" dy="5">が、その割にはフォロワー数があまり増</tspan><tspan x="710" dy="5">えない状態です。</tspan></text><path class="u uy" d="M708 274H788"/></g>
<g id="h3"><text class="t" x="662" y="282.5">フォロワーが増えない</text><path class="u uy" d="M660 284H706"/></g>
<g id="h3a"><text class="t" x="710" y="278.5">なかなかPVやフォロワーが増えないとこ<tspan x="710" dy="5">ろが悩みです。</tspan></text><path class="u uy" d="M708 285H788"/></g>
<g id="y-mon"><text class="t" x="633" y="313.5">マネタイズ</text><path class="u uy" d="M631 315H655"/></g>
<g id="j1"><text class="t" x="662" y="289.5">note上げでのマネタイズが未知Note、<tspan x="662" dy="5">Amazonのアフィリエイトくらいしかイメー</tspan><tspan x="662" dy="5">ジできない</tspan></text><path class="u uy" d="M660 301H738"/></g>
<g id="j2"><text class="t" x="662" y="304.5">アカウントの特性に合わせたマネタイズ</text><path class="u uy" d="M660 306H738"/></g>
<g id="j3"><text class="t" x="662" y="310.5">記事に自信が持てない、<tspan x="662" dy="5">マネタイズするまでの道が遠くない。</tspan></text><path class="u uy" d="M660 317H732"/></g>
<g id="j4"><text class="t" x="662" y="329.5">有料記事作成方法</text><path class="u uy" d="M660 331H696"/></g>
<g id="j4a"><text class="t" x="703" y="322.5">無料と有料記事の書き分け</text><path class="u uy" d="M701 324H752"/></g>
<g id="j4b"><text class="t" x="703" y="327.5">何の記事に、まずは有料？に有に購入し<tspan x="703" dy="5">てもらえる</tspan></text><path class="u uy" d="M701 334H765"/></g>
<g id="j4c"><text class="t" x="703" y="337.5">有料noteを販売して記録させること</text><path class="u uy" d="M701 339H768"/></g>
<g id="y-other"><text class="t" x="633" y="414.5">その他</text><path class="u uy" d="M631 416H650"/></g>
<g id="v1"><text class="t" x="656" y="343.5">おすすめに選ばれないんです</text><path class="u uy" d="M654 345H712"/></g>
<g id="v2"><text class="t" x="656" y="349.5">noteを始めたいがどうすればいいかわか<tspan x="656" dy="5">らない。</tspan></text><path class="u uy" d="M654 356H732"/></g>
<g id="v3"><text class="t" x="656" y="360.5">noteを継続続ける習慣化</text><path class="u uy" d="M654 362H700"/></g>
<g id="v4"><text class="t" x="656" y="367.5">noteを前は特別型無しはしたいところで<tspan x="656" dy="5">す、はじまって時間間である程度のフォ</tspan><tspan x="656" dy="5">ロワーさんが必要と考えていて、どのよ</tspan><tspan x="656" dy="5">うに運用していくべきか、他のSNSとの</tspan><tspan x="656" dy="5">違いをを模索しています。</tspan></text><path class="u uy" d="M654 389H732"/></g>
<g id="v5"><text class="t" x="656" y="392.5">ワードプレス、SNS、自分にはあわない<tspan x="656" dy="5">気がしてきました。</tspan></text><path class="u uy" d="M654 399H732"/></g>
<g id="v6"><text class="t" x="656" y="403.5">スキ・フォロワー・ビューが少ない</text><path class="u uy" d="M654 405H718"/></g>
<g id="v7"><text class="t" x="656" y="409.5">あまりスキが増えない</text><path class="u uy" d="M654 411H697"/></g>
<g id="v8"><text class="t" x="656" y="415.5">・note内にいる読者（TaxDiaryのフォロ<tspan x="656" dy="5">ワーやYouTuberの学習者が多く影響力が</tspan><tspan x="656" dy="5">あるんか）との差別化をどう図るかに</tspan><tspan x="656" dy="5">悩んでいる。</tspan></text><path class="u uy" d="M654 432H732"/></g>
<g id="v9"><text class="t" x="656" y="436.5">・noteの記事作成、自分の商品以外のこ<tspan x="656" dy="5">とを書いていいのか</tspan><tspan x="656" dy="5">・noteのレイアウトをきれいにしたい</tspan><tspan x="656" dy="5">（スマホから投稿してますが、PCの方が</tspan><tspan x="656" dy="5">いいのか）</tspan></text><path class="u uy" d="M654 458H732"/></g>
<g id="v10"><text class="t" x="656" y="461.5">今はアメブロを使っていて、noteも活<tspan x="656" dy="5">用してもっと見てもらえたらと思ってい</tspan><tspan x="656" dy="5">ますが、どのように活用したらいいのか</tspan><tspan x="656" dy="5">ちょっと悩んでいます。</tspan></text><path class="u uy" d="M654 478H732"/></g>
<g id="v10a"><text class="t" x="738" y="465.5">ブログを各所書いてきましたが、<tspan x="738" dy="5">noteはどう使えばいいのかよくわからない</tspan></text><path class="u uy" d="M734 478H813"/></g>
<g id="v11"><text class="t" x="656" y="482.5">SNS的にライトなタッチで程度高くに記<tspan x="656" dy="5">事を発信できないんです</tspan></text><path class="u uy" d="M654 489H732"/></g>
</g>

<g id="blue-nodes">
<g id="b-inc"><text class="t" x="616" y="606.5">収入</text><path class="u ub" d="M613 608H628"/></g>
<g id="b-keizoku"><text class="t" x="633" y="530.5">継続収入を得たい</text><path class="u ub" d="M631 532H668"/></g>
<g id="c1"><text class="t" x="673" y="501.5">30万円／月の収入継続</text><path class="u ub" d="M671 503H716"/></g>
<g id="c1a"><text class="t" x="725" y="496.5">noteだけで月収億さんがありつつ、リス<tspan x="725" dy="5">ト取り組み込んでくい取りたい</tspan></text><path class="u ub" d="M723 503H802"/></g>
<g id="c2"><text class="t" x="673" y="507.5">お客様に喜んでもらえる商品、サービス<tspan x="673" dy="5">を作り、月に30万円を達成する。</tspan></text><path class="u ub" d="M671 514H754"/></g>
<g id="c3"><text class="t" x="673" y="521.5">安定収入は月30万円</text><path class="u ub" d="M671 523H718"/></g>
<g id="c3a"><text class="t" x="725" y="517.5">noteを通しての利益が30万円以上</text><path class="u ub" d="M723 519H792"/></g>
<g id="c3b"><text class="t" x="725" y="524.5">副業収の収入　　月収定20万円の収入</text><path class="u ub" d="M723 526H795"/></g>
<g id="c4"><text class="t" x="673" y="544.5">月収10万円</text><path class="u ub" d="M671 546H698"/></g>
<g id="c4a"><text class="t" x="705" y="530.5">noteで月10万円を安定的に稼げるようにな<tspan x="705" dy="5">りたい。</tspan></text><path class="u ub" d="M703 537H780"/></g>
<g id="c4b"><text class="t" x="705" y="541.5">noteで月額10万円のマネタイズ</text><path class="u ub" d="M703 543H768"/></g>
<g id="c4c"><text class="t" x="705" y="548.5">月10万円をコンスタントに得られるた<tspan x="705" dy="5">めの仕組みを構築していきる。</tspan></text><path class="u ub" d="M703 555H780"/></g>
<g id="c5"><text class="t" x="673" y="560.5">月に1～5万円の副業を得たい</text><path class="u ub" d="M671 562H734"/></g>
<g id="d1"><text class="t" x="633" y="565.5">1～5万円の有料note記事販売→月5～8個<tspan x="633" dy="5">程に購入いただけると自分の価値→月々</tspan><tspan x="633" dy="5">の価値が得られる、です！</tspan></text><path class="u ub" d="M631 577H710"/></g>
<g id="d2"><text class="t" x="633" y="581.5">まず、有料で売れるようになる。そし<tspan x="633" dy="5">て、自分のサービスが売れる。</tspan></text><path class="u ub" d="M631 588H710"/></g>
<g id="d3"><text class="t" x="633" y="592.5">noteからたくさんの方を出して稼げもら<tspan x="633" dy="5">えて有料記事の販売をしたいです</tspan></text><path class="u ub" d="M631 599H710"/></g>
<g id="b-yuryo"><text class="t" x="633" y="630.5">有料noteを販売したい</text><path class="u ub" d="M631 632H676"/></g>
<g id="b1"><text class="t" x="683" y="603.5">有料記事を作ってそれなりに売れる記事を書<tspan x="683" dy="5">きたい</tspan></text><path class="u ub" d="M681 610H758"/></g>
<g id="b2"><text class="t" x="683" y="614.5">PVやフォロワーが増え、今後でても有料記<tspan x="683" dy="5">事を書いて売れていけるように</tspan></text><path class="u ub" d="M681 621H758"/></g>
<g id="b3"><text class="t" x="683" y="625.5">自分の発信noteを自分で販売する</text><path class="u ub" d="M681 627H742"/></g>
<g id="b4"><text class="t" x="683" y="631.5">記事を見てもらい、noteで利益を出せる<tspan x="683" dy="5">ようになりたい。</tspan></text><path class="u ub" d="M681 638H758"/></g>
<g id="b5"><text class="t" x="683" y="642.5">PVを集めて、そのノウハウをコンテンツ<tspan x="683" dy="5">にして販売したい</tspan></text><path class="u ub" d="M681 649H758"/></g>
<g id="b6"><text class="t" x="683" y="654.5">有料記事が記事記に売れていない</text><path class="u ub" d="M681 656H748"/></g>
<g id="d4"><text class="t" x="633" y="661.5">有料記事が安定的に売れるようにしたい</text><path class="u ub" d="M631 663H706"/></g>
<g id="d5"><text class="t" x="633" y="667.5">noteからの収入を得たい。</text><path class="u ub" d="M631 669H682"/></g>
<g id="d6"><text class="t" x="633" y="673.5">無理なく楽しく更新しながら、自分を自分<tspan x="633" dy="5">としてくれる読者様と繋がり、商品を</tspan><tspan x="633" dy="5">提供しているようになりたいです</tspan></text><path class="u ub" d="M631 685H710"/></g>
<g id="b-nin"><text class="t" x="616" y="744.5">認知度UP</text><path class="u ub" d="M613 746H634"/></g>
<g id="b-hasshin"><text class="t" x="643" y="706.5">発信</text><path class="u ub" d="M641 708H656"/></g>
<g id="t1"><text class="t" x="660" y="688.5">継続にフォロワー数を増やし、特徴の強<tspan x="660" dy="5">く価値を広げる</tspan></text><path class="u ub" d="M658 695H737"/></g>
<g id="t2"><text class="t" x="660" y="699.5">記事への興味を増したいです。</text><path class="u ub" d="M658 701H717"/></g>
<g id="t3"><text class="t" x="660" y="704.5">フォロワーを増やして、共感してくれる<tspan x="660" dy="5">人を増やしたい。</tspan></text><path class="u ub" d="M658 711H737"/></g>
<g id="t4"><text class="t" x="660" y="715.5">コンスタントに発信し、交流できる人、<tspan x="660" dy="5">読んでくれる人を増やしたい</tspan></text><path class="u ub" d="M658 722H737"/></g>
<g id="b-acc"><text class="t" x="643" y="779.5">アクセス数UP</text><path class="u ub" d="M641 781H670"/></g>
<g id="u1"><text class="t" x="678" y="726.5">20万pv、2万スキのアカウントを確立し<tspan x="678" dy="5">て、noteでの稼ぎに記事発信数の多い</tspan><tspan x="678" dy="5">項目</tspan></text><path class="u ub" d="M676 738H755"/></g>
<g id="u2"><text class="t" x="678" y="743.5">100PV！　　　100PV超え</text><path class="u ub" d="M676 745H755"/></g>
<g id="u3"><text class="t" x="678" y="749.5">20万pvくらいになっていたいなっておも<tspan x="678" dy="5">います</tspan></text><path class="u ub" d="M676 756H752"/></g>
<g id="u4"><text class="t" x="678" y="773.5">月間1万ページビューです。</text><path class="u ub" d="M676 775H734"/></g>
<g id="u4a"><text class="t" x="738" y="759.5">アクセス数が月1万PVになり、有料マガ<tspan x="738" dy="5">ジンor リスト集めが定期的にできてる</tspan><tspan x="738" dy="5">ようになる。</tspan></text><path class="u ub" d="M736 771H815"/></g>
<g id="u4b"><text class="t" x="738" y="777.5">1000記事はいきたいです！</text><path class="u ub" d="M736 779H790"/></g>
<g id="u5"><text class="t" x="678" y="782.5">1記事の文章量が少なくていいから、<tspan x="678" dy="5">毎日投稿を続けていたい</tspan></text><path class="u ub" d="M676 789H752"/></g>
<g id="u6"><text class="t" x="678" y="793.5">月間1000PVを継続したい</text><path class="u ub" d="M676 795H735"/></g>
<g id="u7"><text class="t" x="678" y="798.5">毎日1投稿して、可能ごとに1000PVに<tspan x="678" dy="5">なるようにしたいです</tspan></text><path class="u ub" d="M676 805H755"/></g>
<g id="u8"><text class="t" x="678" y="809.5">1000PV達を超える記事を量産</text><path class="u ub" d="M676 811H735"/></g>
<g id="u9"><text class="t" x="678" y="814.5">定期的に有料記事の販売を可能に</text><path class="u ub" d="M676 816H738"/></g>
<g id="u9a"><text class="t" x="745" y="814.5">1記事PV数1000以上</text><path class="u ub" d="M743 816H788"/></g>
<g id="u10"><text class="t" x="678" y="820.5">安定したPV1000以上</text><path class="u ub" d="M676 822H715"/></g>
<g id="b-eik"><text class="t" x="616" y="868.5">影響力</text><path class="u ub" d="M613 870H630"/></g>
<g id="b-fan"><text class="t" x="637" y="841.5">ファンをたくさん作りたい</text><path class="u ub" d="M635 843H682"/></g>
<g id="fa1"><text class="t" x="693" y="826.5">自分のファンを増やしたいです</text><path class="u ub" d="M691 828H750"/></g>
<g id="fa2"><text class="t" x="693" y="833.5">コメントやを得るに期るようになってい<tspan x="693" dy="5">てほしい。</tspan></text><path class="u ub" d="M691 840H768"/></g>
<g id="fa3"><text class="t" x="693" y="844.5">たくさんの濃いファンにnoteの更新が楽<tspan x="693" dy="5">しみだって言われたい</tspan></text><path class="u ub" d="M691 851H768"/></g>
<g id="fa4"><text class="t" x="693" y="855.5">フォロワー1000人を超えたいです。</text><path class="u ub" d="M691 857H758"/></g>
<g id="b-brand"><text class="t" x="637" y="893.5">情報発信をブランドにしたいです。</text><path class="u ub" d="M635 895H698"/></g>
<g id="br1"><text class="t" x="705" y="861.5">noteからオンラインサロンのメンバーが<tspan x="705" dy="5">集客できている</tspan></text><path class="u ub" d="M703 868H782"/></g>
<g id="br2"><text class="t" x="705" y="871.5">お客様の悩み情報が集まりより、記事に<tspan x="705" dy="5">対してよりも多くのサポートをもらえるよ</tspan><tspan x="705" dy="5">うになりたいです。</tspan></text><path class="u ub" d="M703 883H782"/></g>
<g id="br3"><text class="t" x="705" y="888.5">TaxDiaryの活用でブランディング</text><path class="u ub" d="M703 890H770"/></g>
<g id="br4"><text class="t" x="705" y="894.5">経験を持ってくれているフォロワーさん<tspan x="705" dy="5">がいて、継続的に</tspan></text><path class="u ub" d="M703 901H782"/></g>
</g>

<rect id="bottom-bar" x="0" y="898" width="1054" height="4" fill="#e9e9e9"/>
</svg>
